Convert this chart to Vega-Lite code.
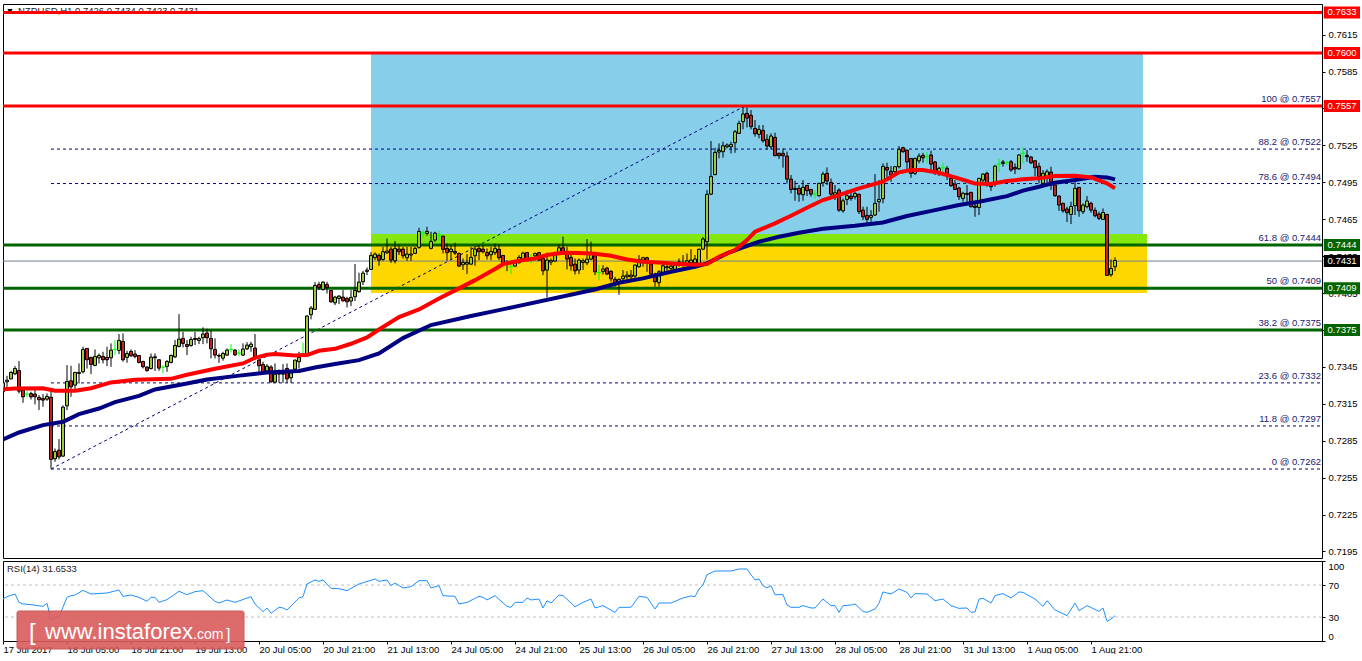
{
"$schema":"https://vega.github.io/schema/vega-lite/v6.json",
"padding":{"left":0,"top":3,"right":0,"bottom":0},
"background":"white",
"spacing":1,
"config":{"view":{"stroke":"black","strokeWidth":1},"font":"Liberation Sans","text":{"font":"Liberation Sans","fontSize":9.5},"scale":{"continuousPadding":0}},
"datasets":{
"zones":[{"x1":92,"x2":285,"hi":0.76,"lo":0.7453,"zone":"blue"},{"x1":92,"x2":286,"hi":0.7453,"lo":0.7444,"zone":"green"},{"x1":92,"x2":286,"hi":0.7444,"lo":0.7405,"zone":"gold"}],
"fib":[{"level":0.7557,"label":"100 @ 0.7557"},{"level":0.7522,"label":"88.2 @ 0.7522"},{"level":0.7494,"label":"78.6 @ 0.7494"},{"level":0.7444,"label":"61.8 @ 0.7444"},{"level":0.7409,"label":"50 @ 0.7409"},{"level":0.7375,"label":"38.2 @ 0.7375"},{"level":0.7332,"label":"23.6 @ 0.7332"},{"level":0.7297,"label":"11.8 @ 0.7297"},{"level":0.7262,"label":"0 @ 0.7262"}],
"trend":[{"i":12,"p":0.7262},{"i":185.5,"p":0.7557}],
"levels":[{"level":0.7633,"kind":"res"},{"level":0.76,"kind":"res"},{"level":0.7557,"kind":"res"},{"level":0.7444,"kind":"sup"},{"level":0.7409,"kind":"sup"},{"level":0.7375,"kind":"sup"},{"level":0.7431,"kind":"price"}],
"candles":[
{"i":0,"o":0.73248,"h":0.73378,"l":0.73234,"c":0.73321},{"i":1,"o":0.73329,"h":0.73378,"l":0.73288,"c":0.73342},{"i":2,"o":0.73353,"h":0.73416,"l":0.73348,"c":0.73405},{"i":3,"o":0.73394,"h":0.73456,"l":0.73383,"c":0.73437},{"i":4,"o":0.73421,"h":0.73497,"l":0.73234,"c":0.73253},{"i":5,"o":0.73261,"h":0.73288,"l":0.73158,"c":0.73207},{"i":6,"o":0.73229,"h":0.73253,"l":0.73202,"c":0.73229},{"i":7,"o":0.73234,"h":0.73248,"l":0.73185,"c":0.73207},{"i":8,"o":0.73229,"h":0.73267,"l":0.73145,"c":0.73207},{"i":9,"o":0.73202,"h":0.73221,"l":0.73099,"c":0.73183},
{"i":10,"o":0.73193,"h":0.73229,"l":0.73126,"c":0.7318},{"i":11,"o":0.73188,"h":0.73234,"l":0.73174,"c":0.7321},{"i":12,"o":0.73204,"h":0.73267,"l":0.72624,"c":0.72698},{"i":13,"o":0.72703,"h":0.72787,"l":0.72679,"c":0.72763},{"i":14,"o":0.72773,"h":0.72863,"l":0.72698,"c":0.72719},{"i":15,"o":0.72725,"h":0.73137,"l":0.72719,"c":0.73123},{"i":16,"o":0.73134,"h":0.73464,"l":0.73099,"c":0.73332},{"i":17,"o":0.73337,"h":0.73459,"l":0.73207,"c":0.73288},{"i":18,"o":0.73302,"h":0.7341,"l":0.73267,"c":0.73405},{"i":19,"o":0.73397,"h":0.73478,"l":0.73315,"c":0.73405},
{"i":20,"o":0.7341,"h":0.73614,"l":0.73397,"c":0.73592},{"i":21,"o":0.736,"h":0.736,"l":0.73437,"c":0.73508},{"i":22,"o":0.73527,"h":0.73532,"l":0.73391,"c":0.7347},{"i":23,"o":0.73462,"h":0.73592,"l":0.73456,"c":0.73535},{"i":24,"o":0.73524,"h":0.73559,"l":0.73478,"c":0.73543},{"i":25,"o":0.73535,"h":0.73573,"l":0.73478,"c":0.73508},{"i":26,"o":0.73527,"h":0.73614,"l":0.73456,"c":0.73508},{"i":27,"o":0.73524,"h":0.73641,"l":0.73451,"c":0.73586},{"i":28,"o":0.73592,"h":0.73668,"l":0.73546,"c":0.73592},{"i":29,"o":0.73584,"h":0.73717,"l":0.73554,"c":0.73665},
{"i":30,"o":0.73657,"h":0.73722,"l":0.73492,"c":0.73508},{"i":31,"o":0.73527,"h":0.73581,"l":0.73483,"c":0.73559},{"i":32,"o":0.73576,"h":0.73592,"l":0.73532,"c":0.7354},{"i":33,"o":0.73554,"h":0.73586,"l":0.73519,"c":0.73535},{"i":34,"o":0.73543,"h":0.73546,"l":0.73478,"c":0.73486},{"i":35,"o":0.73494,"h":0.735,"l":0.73437,"c":0.73451},{"i":36,"o":0.73448,"h":0.73456,"l":0.7341,"c":0.73421},{"i":37,"o":0.73437,"h":0.73559,"l":0.73429,"c":0.73529},{"i":38,"o":0.73532,"h":0.73559,"l":0.73418,"c":0.73524},{"i":39,"o":0.73508,"h":0.73511,"l":0.73418,"c":0.7344},
{"i":40,"o":0.73448,"h":0.73464,"l":0.73397,"c":0.73448},{"i":41,"o":0.73454,"h":0.73505,"l":0.7341,"c":0.73494},{"i":42,"o":0.73486,"h":0.73551,"l":0.73478,"c":0.73543},{"i":43,"o":0.73532,"h":0.73668,"l":0.73521,"c":0.73624},{"i":44,"o":0.73616,"h":0.73879,"l":0.73608,"c":0.73676},{"i":45,"o":0.73681,"h":0.73735,"l":0.73608,"c":0.73641},{"i":46,"o":0.73632,"h":0.73668,"l":0.73546,"c":0.73616},{"i":47,"o":0.73624,"h":0.73695,"l":0.73614,"c":0.73673},{"i":48,"o":0.73673,"h":0.73735,"l":0.73627,"c":0.73681},{"i":49,"o":0.73665,"h":0.73695,"l":0.73635,"c":0.73681},
{"i":50,"o":0.73687,"h":0.73771,"l":0.73635,"c":0.73717},{"i":51,"o":0.73725,"h":0.7376,"l":0.73641,"c":0.73687},{"i":52,"o":0.73681,"h":0.73749,"l":0.73519,"c":0.73597},{"i":53,"o":0.73592,"h":0.73681,"l":0.73519,"c":0.73546},{"i":54,"o":0.73543,"h":0.73559,"l":0.73483,"c":0.73538},{"i":55,"o":0.73521,"h":0.73573,"l":0.735,"c":0.73559},{"i":56,"o":0.73546,"h":0.736,"l":0.73538,"c":0.73586},{"i":57,"o":0.73592,"h":0.73635,"l":0.73567,"c":0.73592},{"i":58,"o":0.73586,"h":0.73595,"l":0.73538,"c":0.73548},{"i":59,"o":0.73562,"h":0.73592,"l":0.73538,"c":0.73562},
{"i":60,"o":0.73546,"h":0.73641,"l":0.73538,"c":0.73595},{"i":61,"o":0.73597,"h":0.73651,"l":0.73586,"c":0.73627},{"i":62,"o":0.73614,"h":0.73654,"l":0.73573,"c":0.73635},{"i":63,"o":0.73603,"h":0.73717,"l":0.73505,"c":0.73521},{"i":64,"o":0.73505,"h":0.73546,"l":0.7341,"c":0.73459},{"i":65,"o":0.7347,"h":0.73492,"l":0.73402,"c":0.73413},{"i":66,"o":0.73416,"h":0.73473,"l":0.73397,"c":0.73456},{"i":67,"o":0.73448,"h":0.73464,"l":0.73321,"c":0.73329},{"i":68,"o":0.73326,"h":0.73478,"l":0.73321,"c":0.73391},{"i":69,"o":0.73391,"h":0.73429,"l":0.73321,"c":0.73397},
{"i":70,"o":0.73391,"h":0.73473,"l":0.73321,"c":0.73394},{"i":71,"o":0.73437,"h":0.73478,"l":0.73321,"c":0.73353},{"i":72,"o":0.73361,"h":0.73424,"l":0.73321,"c":0.73402},{"i":73,"o":0.73432,"h":0.73511,"l":0.73424,"c":0.73505},{"i":74,"o":0.73492,"h":0.73573,"l":0.73437,"c":0.73527},{"i":75,"o":0.73559,"h":0.73646,"l":0.73538,"c":0.73559},{"i":76,"o":0.73554,"h":0.73871,"l":0.73546,"c":0.73863},{"i":77,"o":0.73874,"h":0.73944,"l":0.73836,"c":0.73928},{"i":78,"o":0.73917,"h":0.74139,"l":0.73912,"c":0.74112},{"i":79,"o":0.7412,"h":0.74142,"l":0.74074,"c":0.74096},
{"i":80,"o":0.7408,"h":0.74145,"l":0.74069,"c":0.74139},{"i":81,"o":0.7412,"h":0.74142,"l":0.74047,"c":0.74096},{"i":82,"o":0.74071,"h":0.74074,"l":0.73971,"c":0.73979},{"i":83,"o":0.73971,"h":0.74028,"l":0.73952,"c":0.74017},{"i":84,"o":0.74006,"h":0.74034,"l":0.7396,"c":0.74025},{"i":85,"o":0.74017,"h":0.74074,"l":0.73979,"c":0.73987},{"i":86,"o":0.74006,"h":0.7402,"l":0.73933,"c":0.73979},{"i":87,"o":0.73985,"h":0.74074,"l":0.73944,"c":0.74015},{"i":88,"o":0.7402,"h":0.74286,"l":0.73985,"c":0.74071},{"i":89,"o":0.74061,"h":0.74215,"l":0.74053,"c":0.74139},
{"i":90,"o":0.74142,"h":0.74231,"l":0.74115,"c":0.74212},{"i":91,"o":0.74226,"h":0.74258,"l":0.74196,"c":0.74237},{"i":92,"o":0.74242,"h":0.74383,"l":0.74237,"c":0.74356},{"i":93,"o":0.74337,"h":0.7438,"l":0.74318,"c":0.74367},{"i":94,"o":0.74356,"h":0.74372,"l":0.74272,"c":0.74318},{"i":95,"o":0.74323,"h":0.74426,"l":0.74312,"c":0.74386},{"i":96,"o":0.74378,"h":0.74494,"l":0.74367,"c":0.74392},{"i":97,"o":0.74407,"h":0.74426,"l":0.74296,"c":0.74318},{"i":98,"o":0.74312,"h":0.74472,"l":0.74291,"c":0.74413},{"i":99,"o":0.74407,"h":0.7444,"l":0.74359,"c":0.74386},
{"i":100,"o":0.74407,"h":0.74426,"l":0.74331,"c":0.74353},{"i":101,"o":0.74337,"h":0.74426,"l":0.74312,"c":0.74367},{"i":102,"o":0.74359,"h":0.74426,"l":0.74312,"c":0.74367},{"i":103,"o":0.74372,"h":0.74426,"l":0.74367,"c":0.74413},{"i":104,"o":0.74421,"h":0.74581,"l":0.7441,"c":0.74551},{"i":105,"o":0.7454,"h":0.74562,"l":0.74502,"c":0.7454},{"i":106,"o":0.74535,"h":0.74589,"l":0.74516,"c":0.74551},{"i":107,"o":0.74413,"h":0.74548,"l":0.74405,"c":0.7447},{"i":108,"o":0.74481,"h":0.74548,"l":0.74467,"c":0.74537},{"i":109,"o":0.74521,"h":0.74556,"l":0.74475,"c":0.74521},
{"i":110,"o":0.74513,"h":0.74513,"l":0.74372,"c":0.74405},{"i":111,"o":0.74413,"h":0.74453,"l":0.74312,"c":0.74378},{"i":112,"o":0.74386,"h":0.7444,"l":0.74318,"c":0.74407},{"i":113,"o":0.74388,"h":0.74459,"l":0.74359,"c":0.74375},{"i":114,"o":0.74372,"h":0.74378,"l":0.74264,"c":0.74269},{"i":115,"o":0.7428,"h":0.74331,"l":0.74237,"c":0.74299},{"i":116,"o":0.74285,"h":0.74367,"l":0.74204,"c":0.74299},{"i":117,"o":0.74285,"h":0.74426,"l":0.74277,"c":0.7434},{"i":118,"o":0.74353,"h":0.74432,"l":0.74272,"c":0.74407},{"i":119,"o":0.74413,"h":0.7444,"l":0.74318,"c":0.74386},
{"i":120,"o":0.74407,"h":0.7444,"l":0.74372,"c":0.74386},{"i":121,"o":0.7438,"h":0.74413,"l":0.74323,"c":0.74353},{"i":122,"o":0.74361,"h":0.74426,"l":0.74318,"c":0.74388},{"i":123,"o":0.74378,"h":0.74453,"l":0.74359,"c":0.74413},{"i":124,"o":0.74405,"h":0.74448,"l":0.74318,"c":0.74337},{"i":125,"o":0.74356,"h":0.74359,"l":0.74277,"c":0.74291},{"i":126,"o":0.74296,"h":0.74318,"l":0.74228,"c":0.74285},{"i":127,"o":0.74264,"h":0.74285,"l":0.74204,"c":0.74264},{"i":128,"o":0.74269,"h":0.74318,"l":0.74264,"c":0.74296},{"i":129,"o":0.74296,"h":0.74359,"l":0.74291,"c":0.7434},
{"i":130,"o":0.74331,"h":0.74386,"l":0.74323,"c":0.74375},{"i":131,"o":0.7438,"h":0.7438,"l":0.74318,"c":0.74331},{"i":132,"o":0.74331,"h":0.74367,"l":0.74291,"c":0.74331},{"i":133,"o":0.74353,"h":0.74378,"l":0.74318,"c":0.74372},{"i":134,"o":0.74378,"h":0.74386,"l":0.74312,"c":0.74318},{"i":135,"o":0.74331,"h":0.74331,"l":0.74196,"c":0.74231},{"i":136,"o":0.74237,"h":0.74378,"l":0.74014,"c":0.74318},{"i":137,"o":0.74302,"h":0.74331,"l":0.74277,"c":0.74315},{"i":138,"o":0.7431,"h":0.74386,"l":0.74304,"c":0.74378},{"i":139,"o":0.74378,"h":0.74448,"l":0.74372,"c":0.74418},
{"i":140,"o":0.74418,"h":0.74508,"l":0.74372,"c":0.74383},{"i":141,"o":0.74386,"h":0.74426,"l":0.74242,"c":0.74326},{"i":142,"o":0.7434,"h":0.74372,"l":0.74231,"c":0.74272},{"i":143,"o":0.74285,"h":0.74331,"l":0.74201,"c":0.74231},{"i":144,"o":0.74237,"h":0.74331,"l":0.74204,"c":0.74318},{"i":145,"o":0.74299,"h":0.74331,"l":0.74237,"c":0.74312},{"i":146,"o":0.74296,"h":0.74489,"l":0.74277,"c":0.74326},{"i":147,"o":0.74326,"h":0.74467,"l":0.74318,"c":0.7438},{"i":148,"o":0.74353,"h":0.74372,"l":0.74196,"c":0.74223},{"i":149,"o":0.74215,"h":0.74277,"l":0.74155,"c":0.74215},
{"i":150,"o":0.74226,"h":0.74277,"l":0.74201,"c":0.74245},{"i":151,"o":0.74253,"h":0.74264,"l":0.74196,"c":0.74204},{"i":152,"o":0.74226,"h":0.74237,"l":0.74142,"c":0.74166},{"i":153,"o":0.74161,"h":0.74182,"l":0.74101,"c":0.74128},{"i":154,"o":0.74134,"h":0.74169,"l":0.74036,"c":0.74161},{"i":155,"o":0.74166,"h":0.74237,"l":0.74155,"c":0.74188},{"i":156,"o":0.74182,"h":0.74228,"l":0.74134,"c":0.74196},{"i":157,"o":0.74182,"h":0.74237,"l":0.74155,"c":0.74196},{"i":158,"o":0.74188,"h":0.74283,"l":0.74169,"c":0.74277},{"i":159,"o":0.74264,"h":0.74359,"l":0.74256,"c":0.74323},
{"i":160,"o":0.74318,"h":0.74345,"l":0.74264,"c":0.74337},{"i":161,"o":0.74337,"h":0.74345,"l":0.74223,"c":0.74296},{"i":162,"o":0.74285,"h":0.74291,"l":0.74196,"c":0.74204},{"i":163,"o":0.74204,"h":0.74215,"l":0.74101,"c":0.74142},{"i":164,"o":0.74134,"h":0.74237,"l":0.74101,"c":0.74223},{"i":165,"o":0.74215,"h":0.74291,"l":0.74209,"c":0.74272},{"i":166,"o":0.74256,"h":0.74291,"l":0.74209,"c":0.74264},{"i":167,"o":0.7425,"h":0.74291,"l":0.74223,"c":0.74269},{"i":168,"o":0.74237,"h":0.74304,"l":0.74223,"c":0.74277},{"i":169,"o":0.74277,"h":0.74331,"l":0.74264,"c":0.74304},
{"i":170,"o":0.7428,"h":0.74359,"l":0.74264,"c":0.74299},{"i":171,"o":0.74291,"h":0.74372,"l":0.74277,"c":0.74312},{"i":172,"o":0.74296,"h":0.74407,"l":0.74277,"c":0.74318},{"i":173,"o":0.74296,"h":0.74359,"l":0.74277,"c":0.74326},{"i":174,"o":0.74291,"h":0.74413,"l":0.74285,"c":0.74405},{"i":175,"o":0.74407,"h":0.74505,"l":0.74399,"c":0.74489},{"i":176,"o":0.74467,"h":0.74887,"l":0.74323,"c":0.74852},{"i":177,"o":0.74854,"h":0.75285,"l":0.74846,"c":0.74998},{"i":178,"o":0.75012,"h":0.75231,"l":0.75009,"c":0.75193},{"i":179,"o":0.75196,"h":0.75266,"l":0.75144,"c":0.75209},
{"i":180,"o":0.75199,"h":0.7528,"l":0.7515,"c":0.75247},{"i":181,"o":0.75239,"h":0.75266,"l":0.75226,"c":0.75253},{"i":182,"o":0.75239,"h":0.7528,"l":0.75185,"c":0.75258},{"i":183,"o":0.75272,"h":0.75375,"l":0.7519,"c":0.75361},{"i":184,"o":0.75348,"h":0.75451,"l":0.75342,"c":0.75429},{"i":185,"o":0.75443,"h":0.75559,"l":0.7538,"c":0.75505},{"i":186,"o":0.7551,"h":0.75559,"l":0.75396,"c":0.75472},{"i":187,"o":0.75494,"h":0.75537,"l":0.7538,"c":0.75402},{"i":188,"o":0.75388,"h":0.75456,"l":0.75321,"c":0.75345},{"i":189,"o":0.7534,"h":0.75415,"l":0.75307,"c":0.7538},
{"i":190,"o":0.75372,"h":0.75415,"l":0.75272,"c":0.75288},{"i":191,"o":0.75299,"h":0.7534,"l":0.75218,"c":0.75245},{"i":192,"o":0.75239,"h":0.75348,"l":0.75218,"c":0.75326},{"i":193,"o":0.75315,"h":0.75353,"l":0.75163,"c":0.75166},{"i":194,"o":0.75185,"h":0.75193,"l":0.75139,"c":0.75166},{"i":195,"o":0.75185,"h":0.75226,"l":0.75069,"c":0.75166},{"i":196,"o":0.75163,"h":0.75199,"l":0.74941,"c":0.74976},{"i":197,"o":0.74976,"h":0.75009,"l":0.7486,"c":0.74892},{"i":198,"o":0.74901,"h":0.74963,"l":0.748,"c":0.74892},{"i":199,"o":0.74901,"h":0.74928,"l":0.74792,"c":0.74854},
{"i":200,"o":0.74849,"h":0.74968,"l":0.748,"c":0.74909},{"i":201,"o":0.74925,"h":0.74928,"l":0.74838,"c":0.74882},{"i":202,"o":0.74892,"h":0.74895,"l":0.74833,"c":0.74854},{"i":203,"o":0.74854,"h":0.74887,"l":0.74819,"c":0.74854},{"i":204,"o":0.74841,"h":0.74947,"l":0.74833,"c":0.74941},{"i":205,"o":0.74947,"h":0.75036,"l":0.74914,"c":0.75017},{"i":206,"o":0.75023,"h":0.75071,"l":0.74928,"c":0.7496},{"i":207,"o":0.74949,"h":0.74982,"l":0.74819,"c":0.74854},{"i":208,"o":0.74846,"h":0.74928,"l":0.74806,"c":0.74865},{"i":209,"o":0.74887,"h":0.74901,"l":0.74711,"c":0.74724},
{"i":210,"o":0.74719,"h":0.74819,"l":0.74703,"c":0.748},{"i":211,"o":0.74811,"h":0.74887,"l":0.74765,"c":0.74841},{"i":212,"o":0.74838,"h":0.74882,"l":0.748,"c":0.74819},{"i":213,"o":0.74833,"h":0.74873,"l":0.74811,"c":0.7486},{"i":214,"o":0.74852,"h":0.7486,"l":0.74692,"c":0.74711},{"i":215,"o":0.74724,"h":0.74752,"l":0.74643,"c":0.7467},{"i":216,"o":0.74681,"h":0.74752,"l":0.74621,"c":0.74649},{"i":217,"o":0.74665,"h":0.74724,"l":0.7463,"c":0.74681},{"i":218,"o":0.74684,"h":0.75017,"l":0.74676,"c":0.74779},{"i":219,"o":0.74792,"h":0.74968,"l":0.74711,"c":0.74811},
{"i":220,"o":0.74817,"h":0.75104,"l":0.74779,"c":0.75079},{"i":221,"o":0.75071,"h":0.75109,"l":0.74968,"c":0.7505},{"i":222,"o":0.75039,"h":0.75082,"l":0.74955,"c":0.75009},{"i":223,"o":0.75036,"h":0.75077,"l":0.75009,"c":0.75077},{"i":224,"o":0.75077,"h":0.75245,"l":0.75063,"c":0.75218},{"i":225,"o":0.75231,"h":0.75239,"l":0.7519,"c":0.75199},{"i":226,"o":0.75209,"h":0.75218,"l":0.7505,"c":0.75115},{"i":227,"o":0.75144,"h":0.75144,"l":0.74987,"c":0.75023},{"i":228,"o":0.75023,"h":0.7515,"l":0.75009,"c":0.75144},{"i":229,"o":0.75125,"h":0.75185,"l":0.75104,"c":0.75163},
{"i":230,"o":0.75169,"h":0.7519,"l":0.75109,"c":0.7515},{"i":231,"o":0.75158,"h":0.75196,"l":0.75104,"c":0.75158},{"i":232,"o":0.75172,"h":0.75207,"l":0.7505,"c":0.75098},{"i":233,"o":0.75115,"h":0.75123,"l":0.75009,"c":0.75041},{"i":234,"o":0.75036,"h":0.75077,"l":0.75001,"c":0.75063},{"i":235,"o":0.75069,"h":0.75109,"l":0.75036,"c":0.75069},{"i":236,"o":0.75063,"h":0.75082,"l":0.74968,"c":0.75009},{"i":237,"o":0.74982,"h":0.75009,"l":0.74914,"c":0.74922},{"i":238,"o":0.74936,"h":0.74968,"l":0.74887,"c":0.74892},{"i":239,"o":0.74903,"h":0.74914,"l":0.74806,"c":0.74833},
{"i":240,"o":0.74819,"h":0.74873,"l":0.74792,"c":0.7486},{"i":241,"o":0.7486,"h":0.74928,"l":0.74765,"c":0.74852},{"i":242,"o":0.74868,"h":0.74873,"l":0.74746,"c":0.74752},{"i":243,"o":0.74757,"h":0.74779,"l":0.7467,"c":0.74746},{"i":244,"o":0.74746,"h":0.74982,"l":0.74684,"c":0.74982},{"i":245,"o":0.74968,"h":0.75023,"l":0.74928,"c":0.75017},{"i":246,"o":0.75023,"h":0.75036,"l":0.74914,"c":0.74928},{"i":247,"o":0.74928,"h":0.74941,"l":0.74879,"c":0.74914},{"i":248,"o":0.74947,"h":0.7509,"l":0.74914,"c":0.75082},{"i":249,"o":0.75098,"h":0.75144,"l":0.75036,"c":0.75098},
{"i":250,"o":0.75115,"h":0.75131,"l":0.75077,"c":0.75104},{"i":251,"o":0.75109,"h":0.75125,"l":0.7509,"c":0.75109},{"i":252,"o":0.75117,"h":0.75131,"l":0.75036,"c":0.7505},{"i":253,"o":0.75071,"h":0.75104,"l":0.75017,"c":0.75058},{"i":254,"o":0.7506,"h":0.75177,"l":0.7505,"c":0.75172},{"i":255,"o":0.75185,"h":0.75234,"l":0.75104,"c":0.75185},{"i":256,"o":0.75169,"h":0.75212,"l":0.75117,"c":0.75158},{"i":257,"o":0.75155,"h":0.75163,"l":0.75098,"c":0.75109},{"i":258,"o":0.75125,"h":0.75131,"l":0.75001,"c":0.75069},{"i":259,"o":0.75079,"h":0.75109,"l":0.74941,"c":0.74995},
{"i":260,"o":0.74941,"h":0.7505,"l":0.74928,"c":0.75023},{"i":261,"o":0.74982,"h":0.75055,"l":0.74936,"c":0.75036},{"i":262,"o":0.75033,"h":0.75077,"l":0.74887,"c":0.74928},{"i":263,"o":0.74928,"h":0.74928,"l":0.74833,"c":0.74841},{"i":264,"o":0.74838,"h":0.74846,"l":0.74719,"c":0.74765},{"i":265,"o":0.74779,"h":0.74784,"l":0.74703,"c":0.74719},{"i":266,"o":0.74733,"h":0.74752,"l":0.74627,"c":0.74703},{"i":267,"o":0.74689,"h":0.74792,"l":0.74611,"c":0.74754},{"i":268,"o":0.7476,"h":0.74968,"l":0.74684,"c":0.74901},{"i":269,"o":0.74909,"h":0.74909,"l":0.7467,"c":0.74719},
{"i":270,"o":0.74711,"h":0.74779,"l":0.74692,"c":0.74765},{"i":271,"o":0.74752,"h":0.74838,"l":0.74738,"c":0.74798},{"i":272,"o":0.74779,"h":0.74792,"l":0.74703,"c":0.74724},{"i":273,"o":0.74722,"h":0.74746,"l":0.74665,"c":0.74678},{"i":274,"o":0.74692,"h":0.74711,"l":0.74643,"c":0.74657},{"i":275,"o":0.74649,"h":0.74738,"l":0.74643,"c":0.74705},{"i":276,"o":0.74689,"h":0.74692,"l":0.74191,"c":0.74193},{"i":277,"o":0.74199,"h":0.74323,"l":0.74182,"c":0.7425},{"i":278,"o":0.74264,"h":0.7434,"l":0.74228,"c":0.74315}
],
"red":[{"i":0,"p":0.73269},{"i":3,"p":0.73275},{"i":10,"p":0.73277},{"i":13,"p":0.73256},{"i":18,"p":0.73256},{"i":22,"p":0.73277},{"i":27,"p":0.73324},{"i":33,"p":0.73345},{"i":42,"p":0.73353},{"i":46,"p":0.73386},{"i":53,"p":0.73435},{"i":60,"p":0.73478},{"i":63,"p":0.73524},{"i":66,"p":0.73548},{"i":68,"p":0.73554},{"i":73,"p":0.73543},{"i":76,"p":0.73546},{"i":79,"p":0.73581},{"i":83,"p":0.73597},{"i":87,"p":0.73638},{"i":91,"p":0.73689},{"i":94,"p":0.73754},{"i":99,"p":0.73855},{"i":104,"p":0.73917},{"i":109,"p":0.74006},{"i":114,"p":0.74088},{"i":118,"p":0.74155},{"i":123,"p":0.74245},{"i":125,"p":0.74285},{"i":129,"p":0.74312},{"i":133,"p":0.74331},{"i":136,"p":0.74359},{"i":140,"p":0.74378},{"i":144,"p":0.74375},{"i":148,"p":0.74369},{"i":152,"p":0.74353},{"i":156,"p":0.74323},{"i":160,"p":0.74304},{"i":164,"p":0.74299},{"i":168,"p":0.74288},{"i":173,"p":0.7428},{"i":176,"p":0.74285},{"i":179,"p":0.74345},{"i":183,"p":0.74399},{"i":186,"p":0.7448},{"i":188,"p":0.74548},{"i":193,"p":0.74616},{"i":197,"p":0.74678},{"i":201,"p":0.74743},{"i":205,"p":0.74806},{"i":209,"p":0.74846},{"i":214,"p":0.74901},{"i":220,"p":0.74955},{"i":224,"p":0.75031},{"i":227,"p":0.7505},{"i":230,"p":0.7505},{"i":234,"p":0.75028},{"i":238,"p":0.7499},{"i":243,"p":0.74941},{"i":247,"p":0.74936},{"i":251,"p":0.7496},{"i":255,"p":0.74974},{"i":259,"p":0.74982},{"i":263,"p":0.75001},{"i":268,"p":0.75004},{"i":272,"p":0.7499},{"i":276,"p":0.74941},{"i":278,"p":0.74901}],
"blue":[{"i":0,"p":0.7286},{"i":4,"p":0.72917},{"i":10,"p":0.72977},{"i":15,"p":0.73004},{"i":19,"p":0.73066},{"i":24,"p":0.73112},{"i":28,"p":0.73164},{"i":34,"p":0.73215},{"i":38,"p":0.73267},{"i":46,"p":0.73315},{"i":51,"p":0.73348},{"i":58,"p":0.73375},{"i":66,"p":0.73405},{"i":74,"p":0.73416},{"i":78,"p":0.73445},{"i":83,"p":0.73473},{"i":89,"p":0.73505},{"i":94,"p":0.73559},{"i":100,"p":0.73684},{"i":107,"p":0.7379},{"i":117,"p":0.73863},{"i":124,"p":0.73911},{"i":148,"p":0.74079},{"i":154,"p":0.74134},{"i":160,"p":0.74169},{"i":167,"p":0.74223},{"i":173,"p":0.74264},{"i":176,"p":0.74291},{"i":181,"p":0.74372},{"i":185,"p":0.74421},{"i":189,"p":0.74467},{"i":194,"p":0.74508},{"i":199,"p":0.7454},{"i":205,"p":0.74573},{"i":213,"p":0.74597},{"i":220,"p":0.74624},{"i":226,"p":0.74676},{"i":233,"p":0.74724},{"i":239,"p":0.74765},{"i":244,"p":0.74792},{"i":251,"p":0.74838},{"i":255,"p":0.74882},{"i":259,"p":0.74914},{"i":263,"p":0.74947},{"i":268,"p":0.74968},{"i":273,"p":0.74995},{"i":276,"p":0.7499},{"i":278,"p":0.74974}],
"rsi":[{"i":0,"v":52.5},{"i":1,"v":55.4},{"i":3,"v":58.8},{"i":4,"v":48.3},{"i":5,"v":46.3},{"i":7,"v":45.4},{"i":10,"v":43.3},{"i":11,"v":47.1},{"i":12,"v":26.3},{"i":13,"v":29.6},{"i":14,"v":30.4},{"i":16,"v":54.6},{"i":17,"v":56.7},{"i":18,"v":57.5},{"i":20,"v":63.3},{"i":22,"v":58.8},{"i":26,"v":60},{"i":29,"v":63.8},{"i":30,"v":55.8},{"i":32,"v":57.5},{"i":34,"v":54.6},{"i":36,"v":49.6},{"i":37,"v":54.6},{"i":38,"v":54.6},{"i":39,"v":48.3},{"i":41,"v":51.7},{"i":44,"v":62.1},{"i":46,"v":57.9},{"i":48,"v":61.7},{"i":50,"v":62.9},{"i":53,"v":49.6},{"i":54,"v":47.5},{"i":56,"v":51.3},{"i":58,"v":48.3},{"i":62,"v":55.4},{"i":63,"v":46.3},{"i":65,"v":36.7},{"i":66,"v":41.3},{"i":67,"v":34.6},{"i":69,"v":42.1},{"i":70,"v":41.3},{"i":71,"v":38.8},{"i":74,"v":53.8},{"i":75,"v":55.4},{"i":76,"v":71.3},{"i":78,"v":76.3},{"i":79,"v":74.6},{"i":80,"v":76.3},{"i":82,"v":65.8},{"i":84,"v":65.4},{"i":86,"v":62.9},{"i":89,"v":71.3},{"i":93,"v":77.5},{"i":94,"v":74.6},{"i":96,"v":76.3},{"i":97,"v":69.2},{"i":98,"v":72.5},{"i":100,"v":66.3},{"i":102,"v":67.9},{"i":104,"v":75.4},{"i":106,"v":75.4},{"i":107,"v":66.3},{"i":109,"v":69.2},{"i":110,"v":56.7},{"i":113,"v":55.8},{"i":114,"v":46.3},{"i":116,"v":48.3},{"i":119,"v":55.8},{"i":120,"v":54.6},{"i":121,"v":51.3},{"i":123,"v":56.7},{"i":126,"v":43.3},{"i":127,"v":42.1},{"i":128,"v":48.3},{"i":130,"v":48.3},{"i":131,"v":53.8},{"i":132,"v":51.3},{"i":134,"v":52.5},{"i":135,"v":41.3},{"i":136,"v":50.4},{"i":137,"v":47.5},{"i":139,"v":57.5},{"i":140,"v":56.7},{"i":143,"v":42.9},{"i":145,"v":48.3},{"i":147,"v":52.5},{"i":148,"v":41.3},{"i":150,"v":44.2},{"i":153,"v":35.8},{"i":154,"v":42.1},{"i":157,"v":42.1},{"i":159,"v":55.8},{"i":161,"v":54.6},{"i":163,"v":40},{"i":164,"v":47.5},{"i":167,"v":47.5},{"i":170,"v":53.8},{"i":172,"v":56.3},{"i":173,"v":55.4},{"i":174,"v":65},{"i":175,"v":70},{"i":176,"v":82.9},{"i":178,"v":87.5},{"i":182,"v":87.5},{"i":184,"v":90},{"i":186,"v":90},{"i":187,"v":82.9},{"i":188,"v":76.3},{"i":189,"v":77.5},{"i":190,"v":69.2},{"i":191,"v":66.3},{"i":192,"v":69.2},{"i":193,"v":57.9},{"i":195,"v":57.9},{"i":196,"v":45},{"i":197,"v":42.1},{"i":199,"v":42.1},{"i":200,"v":44.2},{"i":202,"v":41.3},{"i":203,"v":41.3},{"i":205,"v":52.5},{"i":207,"v":44.2},{"i":208,"v":44.2},{"i":209,"v":35.8},{"i":210,"v":44.2},{"i":212,"v":45},{"i":213,"v":46.3},{"i":215,"v":37.1},{"i":216,"v":35.8},{"i":218,"v":40},{"i":219,"v":47.1},{"i":220,"v":61.3},{"i":222,"v":58.8},{"i":224,"v":65},{"i":226,"v":60.8},{"i":227,"v":53.8},{"i":228,"v":59.2},{"i":231,"v":58.8},{"i":233,"v":50.4},{"i":235,"v":52.5},{"i":237,"v":44.2},{"i":239,"v":40.8},{"i":241,"v":41.3},{"i":242,"v":35.8},{"i":243,"v":36.3},{"i":244,"v":52.5},{"i":245,"v":53.3},{"i":247,"v":47.5},{"i":248,"v":56.7},{"i":250,"v":59.2},{"i":252,"v":53.8},{"i":254,"v":61.3},{"i":255,"v":60.8},{"i":258,"v":52.5},{"i":260,"v":43.3},{"i":261,"v":50.4},{"i":263,"v":38.8},{"i":266,"v":31.7},{"i":268,"v":47.5},{"i":269,"v":37.9},{"i":271,"v":44.2},{"i":274,"v":37.1},{"i":275,"v":41.3},{"i":276,"v":24.6},{"i":277,"v":27.5},{"i":278,"v":31.65}],
"bands":[{"v":30},{"v":70}]
},
"vconcat":[
{"width":1319,"height":554,"resolve":{"axis":{"x":"independent","y":"independent"}},"layer":[
{"data":{"name":"zones"},"mark":{"type":"rect"},"encoding":{
"x":{"field":"x1","type":"quantitative","scale":{"domain":[0,329.75]},"axis":null},"x2":{"field":"x2"},
"y":{"field":"hi","type":"quantitative","scale":{"domain":[0.71897,0.76399]},"axis":{"orient":"right","title":null,"grid":false,"domain":false,"format":".4f","values":[0.7195,0.7225,0.7255,0.7285,0.7315,0.7345,0.7375,0.7405,0.7435,0.7465,0.7495,0.7525,0.7555,0.7585,0.7615],"tickSize":3,"tickColor":"black","labelPadding":3,"labelFontSize":9.5,"labelFont":"Liberation Sans","labelColor":"black"}},"y2":{"field":"lo"},
"color":{"condition":[{"test":"datum.zone=='blue'","value":"#87CEEB"},{"test":"datum.zone=='green'","value":"#84E80E"}],"value":"#FFD700"}}},
{"data":{"name":"fib"},"mark":{"type":"rule","color":"#000080","strokeWidth":1,"strokeDash":[3,3]},"encoding":{
"x":{"datum":12,"type":"quantitative","scale":{"domain":[0,329.75]},"axis":null},"x2":{"datum":329.5},
"y":{"field":"level","type":"quantitative","scale":{"domain":[0.71897,0.76399]},"axis":null}}},
{"data":{"name":"trend"},"mark":{"type":"line","color":"#000080","strokeWidth":1,"strokeDash":[3,3]},"encoding":{
"x":{"field":"i","type":"quantitative","scale":{"domain":[0,329.75]},"axis":null},
"y":{"field":"p","type":"quantitative","scale":{"domain":[0.71897,0.76399]},"axis":null}}},
{"data":{"values":[{"head":"NZDUSD,H1  0.7426 0.7434 0.7423 0.7431","p":0.76346}]},"mark":{"type":"text","align":"left","baseline":"middle","color":"#222222"},"encoding":{
"x":{"datum":3.75,"type":"quantitative","scale":{"domain":[0,329.75]},"axis":null},
"y":{"field":"p","type":"quantitative","scale":{"domain":[0.71897,0.76399]},"axis":null},"text":{"field":"head"}}},
{"data":{"values":[{"p":0.7634}]},"mark":{"type":"point","shape":"triangle-down","filled":true,"color":"black","size":28,"opacity":1},"encoding":{
"x":{"datum":1.75,"type":"quantitative","scale":{"domain":[0,329.75]},"axis":null},
"y":{"field":"p","type":"quantitative","scale":{"domain":[0.71897,0.76399]},"axis":null}}},
{"data":{"name":"levels"},"mark":{"type":"rule"},"encoding":{
"y":{"field":"level","type":"quantitative","scale":{"domain":[0.71897,0.76399]},"axis":null},
"color":{"condition":[{"test":"datum.kind=='res'","value":"#FF0000"},{"test":"datum.kind=='sup'","value":"#006400"}],"value":"#708090"},
"strokeWidth":{"condition":{"test":"datum.kind=='price'","value":1},"value":3}}},
{"data":{"name":"candles"},"mark":{"type":"rule","strokeWidth":1,"clip":true},"encoding":{
"x":{"field":"i","type":"quantitative","scale":{"domain":[0,329.75]},"axis":null},
"y":{"field":"h","type":"quantitative","scale":{"domain":[0.71897,0.76399]},"axis":null},"y2":{"field":"l"},
"color":{"condition":{"test":"datum.o==datum.c","value":"#00FF00"},"value":"black"}}},
{"data":{"name":"candles"},"transform":[{"filter":"datum.o!=datum.c"}],"mark":{"type":"bar","size":3,"stroke":"black","strokeWidth":1,"clip":true},"encoding":{
"x":{"field":"i","type":"quantitative","scale":{"domain":[0,329.75],"padding":0},"axis":null},
"y":{"field":"o","type":"quantitative","scale":{"domain":[0.71897,0.76399]},"axis":null},"y2":{"field":"c"},
"color":{"condition":{"test":"datum.c>datum.o","value":"#9ACD32"},"value":"#C8201A"}}},
{"data":{"name":"candles"},"transform":[{"filter":"datum.o==datum.c"}],"mark":{"type":"tick","orient":"horizontal","size":5,"thickness":1,"color":"#00FF00","opacity":1,"clip":true},"encoding":{
"x":{"field":"i","type":"quantitative","scale":{"domain":[0,329.75]},"axis":null},
"y":{"field":"o","type":"quantitative","scale":{"domain":[0.71897,0.76399]},"axis":null}}},
{"data":{"name":"blue"},"mark":{"type":"line","color":"#000080","strokeWidth":4,"clip":true},"encoding":{
"x":{"field":"i","type":"quantitative","scale":{"domain":[0,329.75]},"axis":null},
"y":{"field":"p","type":"quantitative","scale":{"domain":[0.71897,0.76399]},"axis":null}}},
{"data":{"name":"red"},"mark":{"type":"line","color":"#FF0000","strokeWidth":4,"clip":true},"encoding":{
"x":{"field":"i","type":"quantitative","scale":{"domain":[0,329.75]},"axis":null},
"y":{"field":"p","type":"quantitative","scale":{"domain":[0.71897,0.76399]},"axis":null}}},
{"data":{"name":"fib"},"mark":{"type":"text","align":"right","baseline":"middle","dy":-7,"color":"#191970"},"encoding":{
"x":{"datum":329.5,"type":"quantitative","scale":{"domain":[0,329.75]},"axis":null},
"y":{"field":"level","type":"quantitative","scale":{"domain":[0.71897,0.76399]},"axis":null},"text":{"field":"label"}}},
{"data":{"name":"levels"},"mark":{"type":"rule","strokeWidth":12},"encoding":{
"x":{"datum":330.2,"type":"quantitative","scale":{"domain":[0,329.75]},"axis":null},"x2":{"datum":339.25},
"y":{"field":"level","type":"quantitative","scale":{"domain":[0.71897,0.76399]},"axis":null},
"color":{"condition":[{"test":"datum.kind=='res'","value":"#FF0000"},{"test":"datum.kind=='sup'","value":"#006400"}],"value":"black"}}},
{"data":{"name":"levels"},"mark":{"type":"text","align":"center","baseline":"middle","color":"white"},"encoding":{
"x":{"datum":334.75,"type":"quantitative","scale":{"domain":[0,329.75]},"axis":null},
"y":{"field":"level","type":"quantitative","scale":{"domain":[0.71897,0.76399]},"axis":null},
"text":{"field":"level","type":"quantitative","format":".4f"}}}
]},
{"width":1319,"height":80,"resolve":{"axis":{"x":"independent","y":"independent"}},"layer":[
{"data":{"name":"bands"},"mark":{"type":"rule","color":"#C0C0C0","strokeWidth":1,"strokeDash":[3,3]},"encoding":{
"y":{"field":"v","type":"quantitative","scale":{"domain":[0,100]},"axis":{"orient":"right","title":null,"grid":false,"domain":false,"values":[0,30,70,100],"labelFlush":true,"tickSize":3,"tickColor":"black","labelPadding":3,"labelFontSize":9.5,"labelFont":"Liberation Sans","labelColor":"black"}}}},
{"data":{"name":"rsi"},"mark":{"type":"line","color":"#1E90FF","strokeWidth":1},"encoding":{
"x":{"field":"i","type":"quantitative","scale":{"domain":[0,329.75]},"axis":{"title":null,"grid":false,"domain":false,"values":[0,16,32,48,64,80,96,112,128,144,160,176,192,208,224,240,256,272],"labelExpr":"['17 Jul 2017','18 Jul 05:00','18 Jul 21:00','19 Jul 13:00','20 Jul 05:00','20 Jul 21:00','21 Jul 13:00','24 Jul 05:00','24 Jul 21:00','25 Jul 13:00','26 Jul 05:00','26 Jul 21:00','27 Jul 13:00','28 Jul 05:00','28 Jul 21:00','31 Jul 13:00','1 Aug 05:00','1 Aug 21:00'][datum.value/16]","labelAlign":"left","labelOverlap":false,"labelBound":false,"labelFlush":false,"tickSize":3,"tickColor":"black","labelPadding":0,"labelFontSize":9.5,"labelFont":"Liberation Sans","labelColor":"black"}},
"y":{"field":"v","type":"quantitative","scale":{"domain":[0,100]},"axis":null}}},
{"data":{"values":[{"name":"RSI(14) 31.6533","v":90}]},"mark":{"type":"text","align":"left","baseline":"middle","color":"#222222"},"encoding":{
"x":{"datum":1,"type":"quantitative","scale":{"domain":[0,329.75]},"axis":null},
"y":{"field":"v","type":"quantitative","scale":{"domain":[0,100]},"axis":null},"text":{"field":"name"}}},
{"data":{"values":[{"from":3.5,"to":60.25,"top":37.5,"bottom":-10}]},"mark":{"type":"rect","color":"#DB5C5C","opacity":0.9,"cornerRadius":2,"stroke":"#C94A4A","strokeWidth":1},"encoding":{
"x":{"field":"from","type":"quantitative","scale":{"domain":[0,329.75]},"axis":null},"x2":{"field":"to"},
"y":{"field":"top","type":"quantitative","scale":{"domain":[0,100]},"axis":null},"y2":{"field":"bottom"}}},
{"data":{"values":[{"t":"[","i":6.5,"v":1,"big":24},{"t":"www.instaforex","i":10.5,"v":3,"big":22},{"t":".com","i":47.5,"v":3,"big":14},{"t":"]","i":55.75,"v":1,"big":16}]},"mark":{"type":"text","align":"left","baseline":"alphabetic","color":"white"},"encoding":{
"x":{"field":"i","type":"quantitative","scale":{"domain":[0,329.75]},"axis":null},
"y":{"field":"v","type":"quantitative","scale":{"domain":[0,100]},"axis":null},"text":{"field":"t"},
"size":{"field":"big","type":"quantitative","scale":null,"legend":null}}}
]}
]
}
